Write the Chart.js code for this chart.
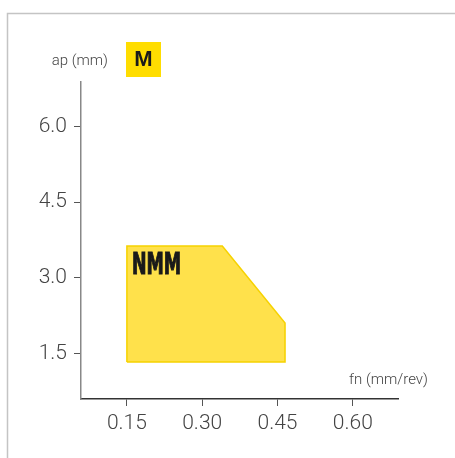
<!DOCTYPE html>
<html><head><meta charset="utf-8">
<script src="https://cdn.jsdelivr.net/npm/chart.js@4"></script>
<style>html,body{margin:0;padding:0;background:#fff;}#wrap{width:455px;height:458px;position:relative;}</style>
</head><body><div id="wrap"><canvas id="c" width="455" height="458"></canvas></div>
<script>
const feedRate = [0.15, 0.15, 0.34, 0.465, 0.465, 0.15];
const cutDepth = [1.33, 3.63, 3.63, 2.1, 1.33, 1.33];
const xTicks = [0.15, 0.30, 0.45, 0.60];
const yTicks = [1.5, 3.0, 4.5, 6.0];
const regionLabel = 'NMM';
const gradeLabel = 'M';
const xTitle = 'fn (mm/rev)';
const yTitle = 'ap (mm)';

const points = feedRate.map((x, i) => ({x: x, y: cutDepth[i]}));
const FONT = "Roboto,'Liberation Sans',Arial,sans-serif";

const deco = {
  id: 'deco',
  beforeDraw(chart) {
    const ctx = chart.ctx;
    ctx.save();
    ctx.strokeStyle = '#c4c4c4';
    ctx.lineWidth = 1.5;
    ctx.beginPath();
    ctx.moveTo(7.5, 460); ctx.lineTo(7.5, 13.5); ctx.lineTo(460, 13.5);
    ctx.stroke();
    ctx.restore();
  },
  afterDraw(chart) {
    const ctx = chart.ctx;
    const xs = chart.scales.x, ys = chart.scales.y;
    ctx.save();
    // axis titles
    ctx.fillStyle = '#444';
    ctx.font = "300 15px " + FONT;
    ctx.textBaseline = 'middle';
    ctx.textAlign = 'right';
    ctx.fillText(yTitle, 108, 61);
    ctx.textAlign = 'left';
    ctx.fillText(xTitle, 349, 380);
    // grade box
    ctx.fillStyle = '#FFDD00';
    ctx.fillRect(126, 42, 35, 35);
    ctx.fillStyle = '#1a1a1a';
    ctx.font = "bold 22px 'Liberation Sans',Arial,sans-serif";
    ctx.textAlign = 'center';
    ctx.fillText(gradeLabel, 143.5, 60);
    // region label
    const px = xs.getPixelForValue(feedRate[1]) + 5;
    const py = ys.getPixelForValue(cutDepth[1]) + 20;
    ctx.translate(px, py);
    ctx.scale(0.58, 1);
    ctx.textAlign = 'left';
    ctx.textBaseline = 'middle';
    ctx.font = "bold 30px 'DejaVu Sans',sans-serif";
    ctx.fillStyle = '#1a1a1a';
    ctx.strokeStyle = '#1a1a1a';
    ctx.lineWidth = 1.2;
    ctx.fillText(regionLabel, 0, 0);
    ctx.strokeText(regionLabel, 0, 0);
    ctx.restore();
  }
};

new Chart(document.getElementById('c'), {
  type: 'scatter',
  data: { datasets: [{
    data: points,
    showLine: true,
    fill: 'shape',
    backgroundColor: 'rgba(255,222,60,0.92)',
    borderColor: '#F6D200',
    borderWidth: 1.5,
    pointRadius: 0,
    tension: 0
  }]},
  options: {
    responsive: false,
    animation: false,
    devicePixelRatio: 1,
    layout: { padding: { top: 82, right: 57, left: 0, bottom: 0 } },
    plugins: { legend: { display: false }, tooltip: { enabled: false } },
    scales: {
      x: {
        type: 'linear', min: 0.0586, max: 0.690,
        afterBuildTicks: s => { s.ticks = xTicks.map(v => ({value: v})); },
        afterFit: s => { s.height = 59; },
        border: { color: '#333', width: 1.5 },
        grid: { drawOnChartArea: false, drawTicks: true, tickLength: 7, color: '#555' },
        ticks: { color: '#444', font: { size: 21, family: FONT, weight: '300' }, padding: 5,
          callback: v => v.toFixed(2) }
      },
      y: {
        type: 'linear', min: 0.596, max: 6.88,
        afterBuildTicks: s => { s.ticks = yTicks.map(v => ({value: v})); },
        afterFit: s => { s.width = 81; },
        border: { color: '#888', width: 1.5 },
        grid: { drawOnChartArea: false, drawTicks: true, tickLength: 7, color: '#555' },
        ticks: { color: '#444', font: { size: 21, family: FONT, weight: '300' }, padding: 7,
          callback: v => v.toFixed(1) }
      }
    }
  },
  plugins: [deco]
});
</script></body></html>
